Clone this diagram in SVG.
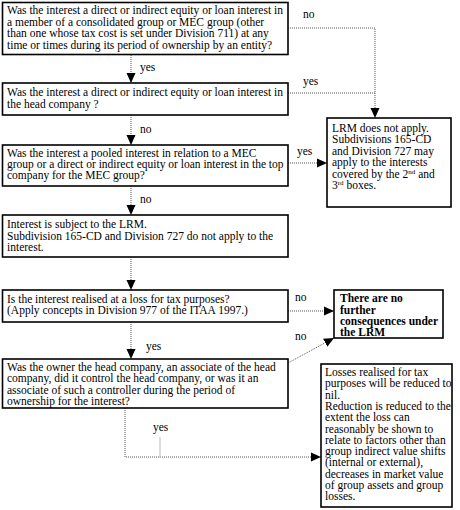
<svg xmlns="http://www.w3.org/2000/svg" width="460" height="510" viewBox="0 0 460 510">
<defs>
<marker id="ah" markerUnits="userSpaceOnUse" markerWidth="10" markerHeight="10" viewBox="0 0 10 10" refX="10" refY="5" orient="auto">
<path d="M0,0.5 L10,5 L0,9.5 Z" fill="#000"/>
</marker>
<style>
.box{fill:#fff;stroke:#000;stroke-width:1.6}
.t{font-family:"Liberation Serif","Times New Roman",serif;font-size:11.5px;fill:#000}
.b{font-weight:bold}
.c{fill:none;stroke:#555;stroke-width:1;stroke-dasharray:1 1}
.a{marker-end:url(#ah)}
.sup{font-size:7px}
</style>
</defs>
<rect width="460" height="510" fill="#fff"/>
<g id="connectors">
<path class="c a" d="M131,55 V83"/>
<path class="c a" d="M131,115 V145"/>
<path class="c a" d="M131,186 V215"/>
<path class="c a" d="M131,257 V290"/>
<path class="c a" d="M131,322 V359"/>
<path class="c a" d="M288,28 H375 V118"/>
<path class="c" d="M288,93 H375"/>
<path class="c a" d="M288,163 H327"/>
<path class="c a" d="M288,311 H334"/>
<path class="c a" d="M288,363 L334,338"/>
<path class="c a" d="M125,408 V457 H321"/>
<path d="M160,437 V458" stroke="#bbb" stroke-width="1" fill="none"/>
<text class="t" x="140" y="71">yes</text>
<text class="t" x="140" y="133">no</text>
<text class="t" x="140" y="203">no</text>
<text class="t" x="146" y="350">yes</text>
<text class="t" x="153" y="431">yes</text>
<text class="t" x="303" y="18">no</text>
<text class="t" x="303" y="85">yes</text>
<text class="t" x="297" y="155">yes</text>
<text class="t" x="295" y="301">no</text>
<text class="t" x="295" y="340">no</text>
</g>
<g id="q1">
<rect class="box" x="2.5" y="2.5" width="285.5" height="52"/>
<text class="t" x="7"><tspan x="7" y="14">Was the interest a direct or indirect equity or loan interest in</tspan><tspan x="7" y="25.5">a member of a consolidated group or MEC group (other</tspan><tspan x="7" y="37">than one whose tax cost is set under Division 711) at any</tspan><tspan x="7" y="48.5">time or times during its period of ownership by an entity?</tspan></text>
</g>
<g id="q2">
<rect class="box" x="2.5" y="83" width="285.5" height="32"/>
<text class="t"><tspan x="7" y="96">Was the interest a direct or indirect equity or loan interest in</tspan><tspan x="7" y="107.5">the head company ?</tspan></text>
</g>
<g id="q3">
<rect class="box" x="2.5" y="145" width="285.5" height="41"/>
<text class="t"><tspan x="7" y="157">Was the interest a pooled interest in relation to a MEC</tspan><tspan x="7" y="168">group or a direct or indirect equity or loan interest in the top</tspan><tspan x="7" y="179">company for the MEC group?</tspan></text>
</g>
<g id="s4">
<rect class="box" x="2.5" y="215" width="285.5" height="42"/>
<text class="t"><tspan x="7" y="228">Interest is subject to the LRM.</tspan><tspan x="7" y="239.5">Subdivision 165-CD and Division 727 do not apply to the</tspan><tspan x="7" y="251">interest.</tspan></text>
</g>
<g id="q5">
<rect class="box" x="2.5" y="290" width="285.5" height="32"/>
<text class="t"><tspan x="7" y="302.5">Is the interest realised at a loss for tax purposes?</tspan><tspan x="7" y="314">(Apply concepts in Division 977 of the ITAA 1997.)</tspan></text>
</g>
<g id="q6">
<rect class="box" x="2.5" y="359" width="285.5" height="49"/>
<text class="t"><tspan x="7" y="370.5">Was the owner the head company, an associate of the head</tspan><tspan x="7" y="382">company, did it control the head company, or was it an</tspan><tspan x="7" y="393.5">associate of such a controller during the period of</tspan><tspan x="7" y="405">ownership for the interest?</tspan></text>
</g>
<g id="lrm-na">
<rect class="box" x="327" y="118" width="124" height="89"/>
<text class="t"><tspan x="332" y="131.5">LRM does not apply.</tspan><tspan x="332" y="143">Subdivisions 165-CD</tspan><tspan x="332" y="154.5">and Division 727 may</tspan><tspan x="332" y="166">apply to the interests</tspan><tspan x="332" y="177.5">covered by the 2<tspan class="sup" dy="-4">nd</tspan><tspan dy="4"> and</tspan></tspan><tspan x="332" y="189">3<tspan class="sup" dy="-4">rd</tspan><tspan dy="4"> boxes.</tspan></tspan></text>
</g>
<g id="no-further">
<rect class="box" x="334" y="290" width="109" height="48"/>
<text class="t b"><tspan x="340" y="302">There are no</tspan><tspan x="340" y="313.5">further</tspan><tspan x="340" y="325">consequences under</tspan><tspan x="340" y="336">the LRM</tspan></text>
</g>
<g id="reduced">
<rect class="box" x="321" y="364" width="131" height="143"/>
<text class="t"><tspan x="325" y="376">Losses realised for tax</tspan><tspan x="325" y="387.3">purposes will be reduced to</tspan><tspan x="325" y="398.6">nil.</tspan><tspan x="325" y="409.9">Reduction is reduced to the</tspan><tspan x="325" y="421.2">extent the loss can</tspan><tspan x="325" y="432.5">reasonably be shown to</tspan><tspan x="325" y="443.8">relate to factors other than</tspan><tspan x="325" y="455.1">group indirect value shifts</tspan><tspan x="325" y="466.4">(internal or external),</tspan><tspan x="325" y="477.7">decreases in market value</tspan><tspan x="325" y="489">of group assets and group</tspan><tspan x="325" y="500.3">losses.</tspan></text>
</g>
</svg>
